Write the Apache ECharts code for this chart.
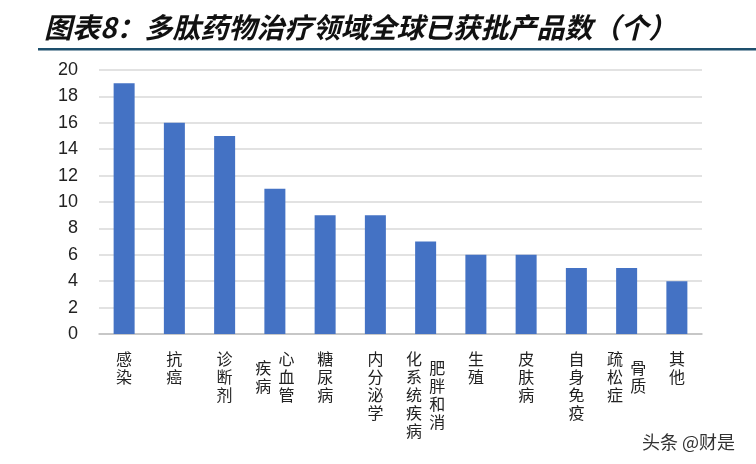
<!DOCTYPE html>
<html>
<head>
<meta charset="utf-8">
<script src="https://cdn.jsdelivr.net/npm/echarts@6/dist/echarts.min.js"></script>
<style>
  html, body { margin: 0; padding: 0; background: #fff; }
  #chart { width: 756px; height: 464px; }
</style>
</head>
<body>
<div id="chart"></div>
<script>
// 数据
var titleText = '图表8：多肽药物治疗领域全球已获批产品数（个）';
// '|' 表示竖排标签换列（右列在前，左列在后）
var categories = ['感染', '抗癌', '诊断剂', '心血管|疾病', '糖尿病', '内分泌学',
  '肥胖和消|化系统疾病', '生殖', '皮肤病', '自身免疫', '骨质|疏松症', '其他'];
var counts = [19, 16, 15, 11, 9, 9, 7, 6, 6, 5, 5, 4];
var yTicks = [0, 2, 4, 6, 8, 10, 12, 14, 16, 18, 20];

// 竖排文字：每个字占两个半行，两列时居中错开半行
function verticalLabel(name) {
  var cols = name.split('|');
  var M = 0;
  cols.forEach(function (c) { M = Math.max(M, c.length); });
  var slots = 2 * M - 1;
  var grid = [];
  for (var s = 0; s < slots; s++) grid.push(cols.map(function () { return '\u3000'; }));
  cols.forEach(function (c, ci) {
    var off = M - c.length;
    for (var k = 0; k < c.length; k++) grid[off + 2 * k][ci] = c[k];
  });
  return grid.map(function (row) {
    // 右列在前 -> 反转为从左到右
    return row.slice().reverse().join('  ');
  }).join('\n');
}

var chart = echarts.init(document.getElementById('chart'));
var option = {
  backgroundColor: '#fff',
  animation: false,
  title: {
    text: titleText,
    left: 39,
    top: 8,
    textStyle: {
      fontFamily: 'Noto Sans CJK SC',
      fontSize: 28,
      fontWeight: 'bold',
      fontStyle: 'italic',
      color: '#111'
    }
  },
  graphic: [
    {
      type: 'rect',
      shape: { x: 38, y: 48, width: 718, height: 2.5 },
      style: { fill: '#1d4f6c' }
    },
    {
      type: 'text',
      x: 642, y: 442,
      style: {
        text: '头条 @财是',
        font: '18px "Noto Sans CJK SC"',
        fill: '#333',
        textVerticalAlign: 'middle'
      }
    }
  ],
  grid: { left: 99, right: 54, top: 70, bottom: 130 },
  xAxis: {
    type: 'category',
    data: categories,
    axisLine: { lineStyle: { color: '#bfbfbf', width: 1.5 } },
    axisTick: { show: false },
    axisLabel: {
      interval: 0,
      margin: 20,
      fontFamily: 'Noto Sans CJK SC',
      fontSize: 16,
      lineHeight: 9,
      color: '#222',
      formatter: verticalLabel
    }
  },
  yAxis: {
    type: 'value',
    min: yTicks[0],
    max: yTicks[yTicks.length - 1],
    interval: yTicks[1] - yTicks[0],
    axisLine: { show: false },
    axisTick: { show: false },
    splitLine: { lineStyle: { color: '#d9d9d9', width: 1.5 } },
    axisLabel: {
      margin: 21,
      fontFamily: 'Liberation Sans',
      fontSize: 18,
      color: '#222'
    }
  },
  series: [{
    type: 'bar',
    data: counts,
    barWidth: 21,
    itemStyle: { color: '#4472c4' }
  }]
};
chart.setOption(option);
</script>
</body>
</html>
